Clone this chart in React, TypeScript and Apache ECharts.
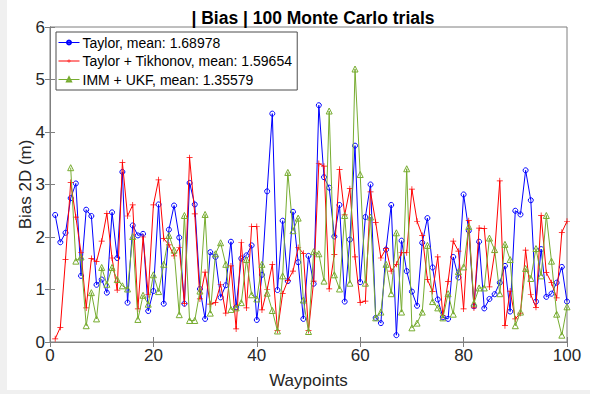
import React, { useEffect, useRef } from "react";
import * as echarts from "echarts";

const waypoints: number[] = Array.from({ length: 100 }, (_, i) => i + 1);

const taylor: number[] = [
  2.42, 1.90, 2.08, 2.74, 3.02, 1.26, 2.52, 2.40, 1.09, 1.19,
  0.94, 2.47, 1.60, 3.24, 0.75, 2.22, 2.03, 2.06, 0.59, 0.97,
  2.62, 0.73, 2.14, 2.60, 1.99, 0.73, 3.03, 2.62, 1.01, 0.44,
  1.71, 1.62, 0.85, 1.08, 1.91, 0.66, 1.59, 1.65, 1.84, 0.42,
  1.28, 2.87, 4.35, 0.99, 2.31, 1.16, 2.48, 1.52, 0.44, 1.64,
  1.11, 4.51, 3.14, 2.94, 2.01, 2.61, 0.77, 1.95, 3.74, 1.14,
  2.38, 3.00, 0.46, 0.36, 1.76, 2.61, 0.13, 1.93, 1.35, 0.96,
  0.69, 1.89, 2.36, 1.42, 0.81, 0.47, 0.44, 1.62, 1.23, 2.81,
  2.12, 0.68, 1.91, 0.64, 0.82, 0.91, 1.13, 1.45, 0.58, 2.50,
  2.43, 3.27, 2.70, 0.77, 1.77, 0.86, 0.92, 1.13, 1.43, 0.77,
];

const tikhonov: number[] = [
  0.06, 0.28, 1.57, 3.04, 2.38, 1.70, 0.65, 1.59, 1.53, 1.92,
  2.45, 1.60, 0.99, 3.42, 2.40, 2.61, 0.63, 2.00, 0.90, 2.61,
  3.09, 1.97, 1.85, 1.64, 1.80, 0.73, 3.51, 2.44, 0.82, 1.33,
  0.72, 0.75, 1.10, 0.55, 1.45, 0.25, 1.90, 0.65, 2.20, 2.20,
  0.61, 1.00, 1.48, 0.22, 0.92, 1.17, 1.35, 1.80, 1.69, 0.22,
  1.16, 3.40, 3.35, 1.01, 1.67, 3.29, 2.42, 2.92, 1.62, 0.75,
  0.78, 2.86, 2.28, 1.60, 1.78, 1.35, 1.48, 1.70, 1.70, 2.91,
  2.30, 2.03, 1.19, 0.96, 1.62, 0.50, 1.15, 1.92, 1.73, 0.63,
  2.31, 0.65, 2.17, 2.16, 1.05, 1.70, 3.07, 0.31, 0.97, 0.44,
  0.55, 1.75, 0.90, 0.66, 2.41, 1.32, 1.13, 0.84, 2.09, 2.30,
];

const immUkf: (number | null)[] = [
  null, null, null, 3.32, 1.54, 1.62, 0.31, 0.94, 0.44, 1.42,
  1.10, 1.42, 1.19, 1.07, 1.01, 2.01, 0.43, 0.89, 0.72, 1.28,
  0.96, 1.48, 2.03, 1.75, 0.52, 2.41, 0.41, 0.41, 0.97, 2.43,
  0.55, 1.68, 1.89, 1.48, 0.62, 0.65, 0.75, 1.57, 0.90, 0.82,
  1.48, 0.93, 0.60, 0.21, 1.26, 3.23, 2.12, 2.36, 0.80, 0.20,
  1.72, 1.68, 1.16, 4.40, 1.28, 1.01, 2.41, 1.12, 5.20, 3.19,
  1.12, 2.38, 0.46, 0.57, 1.48, 0.92, 2.08, 0.57, 3.30, 0.27,
  0.36, 0.57, 1.84, 0.77, 0.65, 0.46, 0.92, 0.53, 1.34, 1.43,
  2.20, 0.74, 1.03, 1.03, 1.98, 1.76, 0.92, 1.86, 1.57, 0.31,
  0.57, 1.40, 1.21, 1.78, 1.26, 2.41, 1.54, 0.53, 0.13, 0.67,
];

const seriesNames: string[] = [
  "Taylor, mean: 1.68978",
  "Taylor + Tikhonov, mean: 1.59654",
  "IMM + UKF, mean: 1.35579",
];

const FONT = "Liberation Sans, Arial, Helvetica, sans-serif";
const PLUS = "path://M4.4,0h1.2v10h-1.2zM0,4.4h10v1.2h-10z";

export default function App() {
  const ref = useRef<HTMLDivElement>(null);

  useEffect(() => {
    document.body.style.margin = "0";
    if (!ref.current) return;
    const chart = echarts.init(ref.current, undefined, { renderer: "svg" });

    const pairs = (arr: (number | null)[]) =>
      waypoints.map((w, i) => [w, arr[i] === null ? "-" : arr[i]]);

    const axisLineStyle = { color: "#7f7f7f", width: 1 };
    const tickCommon = { show: true, inside: true, length: 5, lineStyle: { color: "#7f7f7f" } };

    chart.setOption({
      animation: false,
      backgroundColor: "#ffffff",
      textStyle: { fontFamily: FONT },
      title: {
        text: "| Bias | 100 Monte Carlo trials",
        left: 308,
        top: 4,
        textAlign: "center",
        textStyle: { fontFamily: FONT, fontSize: 17.5, fontWeight: "bold", color: "#000" },
      },
      graphic: [
        { type: "rect", left: 0, top: 0, shape: { width: 7, height: 394 }, style: { fill: "#f0f0f0" }, z: 100 },
        { type: "rect", left: 0, top: 390, shape: { width: 590, height: 4 }, style: { fill: "#f0f0f0" }, z: 100 },
      ],
      legend: {
        orient: "vertical",
        left: 56,
        top: 32,
        backgroundColor: "#ffffff",
        borderColor: "#4d4d4d",
        borderWidth: 1,
        borderRadius: 0,
        padding: [3, 5, 3, 2],
        itemGap: 3.5,
        itemWidth: 21,
        itemHeight: 5,
        lineStyle: { width: 1 },
        textStyle: { fontFamily: FONT, fontSize: 14, color: "#000", lineHeight: 15, padding: [0, 0, 0, -2] },
        data: seriesNames,
        z: 10,
      },
      grid: {
        left: 50,
        right: 23,
        top: 27,
        bottom: 49,
        show: true,
        borderColor: "#7f7f7f",
        borderWidth: 1,
        backgroundColor: "#fff",
      },
      xAxis: [
        {
          type: "value",
          min: 0,
          max: 100,
          interval: 20,
          position: "bottom",
          name: "Waypoints",
          nameLocation: "middle",
          nameGap: 30,
          nameMoveOverlap: false,
          nameTextStyle: { fontFamily: FONT, fontSize: 17, color: "#262626" },
          axisLine: { show: true, lineStyle: axisLineStyle },
          axisTick: tickCommon,
          splitLine: { show: false },
          axisLabel: { fontFamily: FONT, fontSize: 17, color: "#262626", margin: 5 },
        },
        {
          type: "value",
          min: 0,
          max: 100,
          interval: 20,
          position: "top",
          axisLine: { show: true, lineStyle: axisLineStyle },
          axisTick: tickCommon,
          splitLine: { show: false },
          axisLabel: { show: false },
        },
      ],
      yAxis: [
        {
          type: "value",
          min: 0,
          max: 6,
          interval: 1,
          position: "left",
          name: "Bias 2D (m)",
          nameLocation: "middle",
          nameGap: 16,
          nameMoveOverlap: false,
          nameTextStyle: { fontFamily: FONT, fontSize: 17, color: "#262626" },
          axisLine: { show: true, lineStyle: axisLineStyle },
          axisTick: tickCommon,
          splitLine: { show: false },
          axisLabel: { fontFamily: FONT, fontSize: 17, color: "#262626", margin: 5 },
        },
        {
          type: "value",
          min: 0,
          max: 6,
          interval: 1,
          position: "right",
          axisLine: { show: true, lineStyle: axisLineStyle },
          axisTick: tickCommon,
          splitLine: { show: false },
          axisLabel: { show: false },
        },
      ],
      series: [
        {
          name: seriesNames[0],
          type: "line",
          data: pairs(taylor),
          symbol: "circle",
          symbolSize: 5,
          showAllSymbol: true,
          lineStyle: { color: "#0000ff", width: 1 },
          itemStyle: { color: "rgba(255,255,255,0)", borderColor: "#0000ff", borderWidth: 1 },
          emphasis: { disabled: true },
          z: 3,
        },
        {
          name: seriesNames[1],
          type: "line",
          data: pairs(tikhonov),
          symbol: PLUS,
          symbolSize: 6,
          showAllSymbol: true,
          lineStyle: { color: "#ff0000", width: 1 },
          itemStyle: { color: "#ff0000", borderWidth: 0 },
          emphasis: { disabled: true },
          z: 4,
        },
        {
          name: seriesNames[2],
          type: "line",
          data: pairs(immUkf),
          connectNulls: false,
          symbol: "triangle",
          symbolSize: 6,
          showAllSymbol: true,
          lineStyle: { color: "#77ac30", width: 1 },
          itemStyle: { color: "rgba(255,255,255,0)", borderColor: "#77ac30", borderWidth: 1 },
          emphasis: { disabled: true },
          z: 5,
        },
      ],
    });

    return () => chart.dispose();
  }, []);

  return <div ref={ref} style={{ width: 590, height: 394, position: "absolute", left: 0, top: 0 }} />;
}
